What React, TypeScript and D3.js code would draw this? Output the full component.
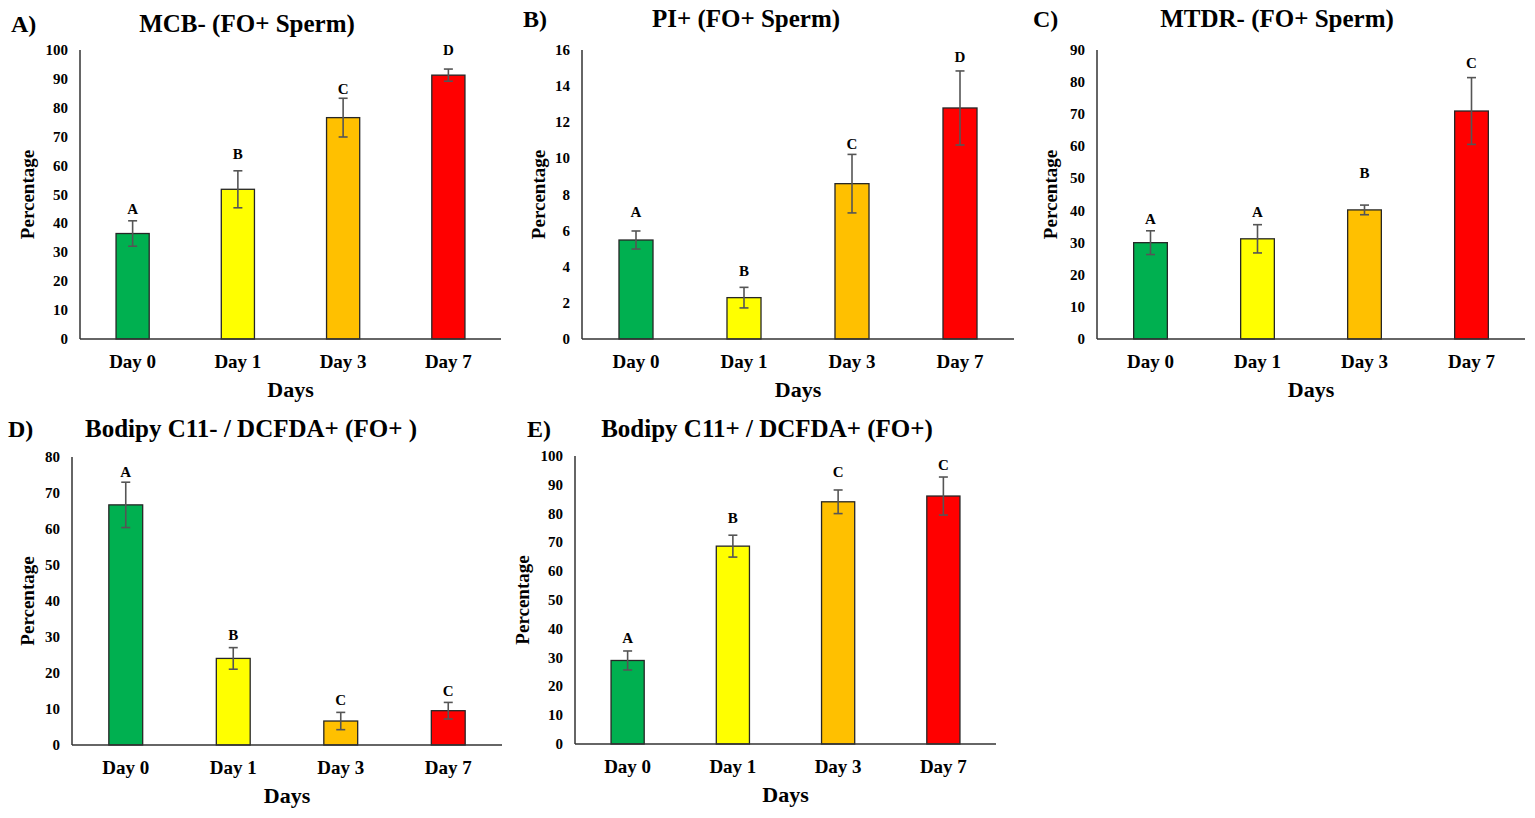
import { scaleLinear, scalePoint, range } from 'd3';

const days = ['Day 0', 'Day 1', 'Day 3', 'Day 7'];
const barColors = ['#00B050', '#FFFF00', '#FFC000', '#FF0000'];

// A) MCB-
const mcbMeans = [36.5, 51.8, 76.6, 91.3];
const mcbErrors = [4.4, 6.4, 6.7, 2.1];
const mcbLetters = ['A', 'B', 'C', 'D'];
const mcbLetterPos = [45, 64, 86.4, 99.9];

// B) PI+
const piMeans = [5.48, 2.29, 8.6, 12.79];
const piErrors = [0.5, 0.57, 1.62, 2.05];
const piLetters = ['A', 'B', 'C', 'D'];
const piLetterPos = [7.05, 3.78, 10.8, 15.63];

// C) MTDR-
const mtdrMeans = [30.0, 31.2, 40.2, 71.0];
const mtdrErrors = [3.7, 4.4, 1.5, 10.4];
const mtdrLetters = ['A', 'A', 'B', 'C'];
const mtdrLetterPos = [37.4, 39.7, 51.6, 85.9];

// D) Bodipy C11- / DCFDA+
const bodMinusMeans = [66.7, 24.05, 6.66, 9.53];
const bodMinusErrors = [6.3, 3.0, 2.4, 2.3];
const bodMinusLetters = ['A', 'B', 'C', 'C'];
const bodMinusLetterPos = [75.85, 30.5, 12.5, 15.0];

// E) Bodipy C11+ / DCFDA+
const bodPlusMeans = [29.0, 68.7, 84.1, 86.1];
const bodPlusErrors = [3.3, 3.8, 4.1, 6.6];
const bodPlusLetters = ['A', 'B', 'C', 'C'];
const bodPlusLetterPos = [36.7, 78.3, 94.5, 96.8];

const FONT = '"Liberation Serif", "Times New Roman", serif';

interface PanelProps {
  tag: string;
  title: string;
  means: number[];
  errors: number[];
  letters: string[];
  letterPos: number[];
  yMax: number;
  yStep: number;
  x0: number;
  x1: number;
  yTop: number;
  yBase: number;
  tagX: number;
  titleX: number;
  titleY: number;
  yLabelX: number;
}

function Panel(p: PanelProps) {
  const x = scalePoint<string>().domain(days).range([p.x0, p.x1]).padding(0.5);
  const y = scaleLinear().domain([0, p.yMax]).range([p.yBase, p.yTop]);
  const step = x.step();
  const barW = step * 0.315;
  const capW = 9;
  const ticks = range(0, p.yMax + p.yStep / 2, p.yStep);

  return (
    <g fontFamily={FONT} fontWeight="bold" fill="#000">
      <text x={p.tagX} y={p.titleY} fontSize={24}>{p.tag}</text>
      <text x={p.titleX} y={p.titleY} fontSize={25} textAnchor="middle">{p.title}</text>

      {ticks.map((t) => (
        <text key={t} x={p.x0 - 12} y={y(t)} fontSize={15} textAnchor="end" dominantBaseline="central">
          {t}
        </text>
      ))}

      {days.map((d, i) => {
        const cx = x(d)!;
        return (
          <g key={d}>
            <rect
              x={cx - barW / 2}
              y={y(p.means[i])}
              width={barW}
              height={p.yBase - y(p.means[i])}
              fill={barColors[i]}
              stroke="#262626"
              strokeWidth={1.3}
            />
            <g stroke="#555" strokeWidth={1.6}>
              <line x1={cx} x2={cx} y1={y(p.means[i] + p.errors[i])} y2={y(p.means[i] - p.errors[i])} />
              <line x1={cx - capW / 2} x2={cx + capW / 2} y1={y(p.means[i] + p.errors[i])} y2={y(p.means[i] + p.errors[i])} />
              <line x1={cx - capW / 2} x2={cx + capW / 2} y1={y(p.means[i] - p.errors[i])} y2={y(p.means[i] - p.errors[i])} />
            </g>
            <text x={cx} y={y(p.letterPos[i])} fontSize={15} textAnchor="middle" dominantBaseline="central">
              {p.letters[i]}
            </text>
            <text x={cx} y={p.yBase + 29} fontSize={19} textAnchor="middle">{d}</text>
          </g>
        );
      })}

      <line x1={p.x0} x2={p.x0} y1={p.yTop} y2={p.yBase} stroke="#333" strokeWidth={1.5} />
      <line x1={p.x0} x2={p.x1} y1={p.yBase} y2={p.yBase} stroke="#333" strokeWidth={1.5} />

      <text x={(p.x0 + p.x1) / 2} y={p.yBase + 58} fontSize={22} textAnchor="middle">Days</text>
      <text
        transform={`translate(${p.yLabelX},${(p.yTop + p.yBase) / 2}) rotate(-90)`}
        fontSize={19}
        textAnchor="middle"
        dominantBaseline="central"
      >
        Percentage
      </text>
    </g>
  );
}

export default function App() {
  return (
    <svg
      width={1535}
      height={818}
      style={{ position: 'absolute', left: 0, top: 0, background: '#fff' }}
    >
      <Panel
        tag="A)" title="MCB- (FO+ Sperm)"
        means={mcbMeans} errors={mcbErrors} letters={mcbLetters} letterPos={mcbLetterPos}
        yMax={100} yStep={10}
        x0={80} x1={501} yTop={50} yBase={339}
        tagX={11} titleX={247} titleY={32} yLabelX={27}
      />
      <Panel
        tag="B)" title="PI+ (FO+ Sperm)"
        means={piMeans} errors={piErrors} letters={piLetters} letterPos={piLetterPos}
        yMax={16} yStep={2}
        x0={582} x1={1014} yTop={50} yBase={339}
        tagX={523} titleX={746} titleY={27} yLabelX={538}
      />
      <Panel
        tag="C)" title="MTDR- (FO+ Sperm)"
        means={mtdrMeans} errors={mtdrErrors} letters={mtdrLetters} letterPos={mtdrLetterPos}
        yMax={90} yStep={10}
        x0={1097} x1={1525} yTop={50} yBase={339}
        tagX={1033} titleX={1277} titleY={27} yLabelX={1050}
      />
      <Panel
        tag="D)" title="Bodipy C11- / DCFDA+ (FO+ )"
        means={bodMinusMeans} errors={bodMinusErrors} letters={bodMinusLetters} letterPos={bodMinusLetterPos}
        yMax={80} yStep={10}
        x0={72} x1={502} yTop={457} yBase={745}
        tagX={8} titleX={251} titleY={437} yLabelX={27}
      />
      <Panel
        tag="E)" title="Bodipy C11+ / DCFDA+ (FO+)"
        means={bodPlusMeans} errors={bodPlusErrors} letters={bodPlusLetters} letterPos={bodPlusLetterPos}
        yMax={100} yStep={10}
        x0={575} x1={996} yTop={456} yBase={744}
        tagX={527} titleX={767} titleY={437} yLabelX={522}
      />
    </svg>
  );
}
